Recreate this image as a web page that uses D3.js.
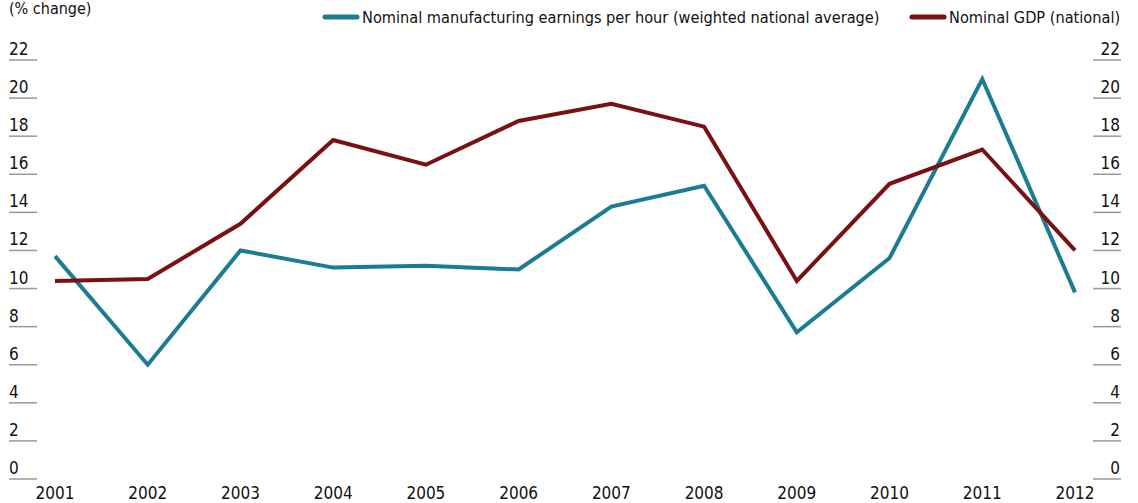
<!DOCTYPE html>
<html lang="en">
<head>
    <meta charset="UTF-8">
    <title>Earnings vs GDP</title>
    <script src="https://cdnjs.cloudflare.com/ajax/libs/d3/7.8.5/d3.min.js"></script>
    <style>
    html, body {
        margin: 0;
        background: white;
    }
    text {
        font-family: "DejaVu Sans Condensed", "DejaVu Sans", sans-serif;
        font-size: 16px;
        fill: #111;
    }
    .tick-label {
        font-size: 17px;
    }
    </style>
</head>
<body>
    <div id="chart"></div>
    <script>
    // data
    var years = ['2001', '2002', '2003', '2004', '2005', '2006', '2007', '2008', '2009', '2010', '2011', '2012'];
    var earnings = [11.7, 6.0, 12.0, 11.1, 11.2, 11.0, 14.3, 15.4, 7.7, 11.6, 21.0, 9.8];
    var gdp = [10.4, 10.5, 13.4, 17.8, 16.5, 18.8, 19.7, 18.5, 10.4, 15.5, 17.3, 12.0];
    var yTicks = [0, 2, 4, 6, 8, 10, 12, 14, 16, 18, 20, 22];
    var seriesNames = ['Nominal manufacturing earnings per hour (weighted national average)', 'Nominal GDP (national)'];
    var colors = ['#1b7c93', '#791114'];

    var width = 1138, height = 503;

    var svg = d3.select('#chart')
        .append('svg')
            .attr('width', width)
            .attr('height', height);

    var x = d3.scalePoint()
        .domain(years)
        .range([55, 1075]);

    var y = d3.scaleLinear()
        .domain([0, 22])
        .range([479, 60]);

    // left ticks
    var left = svg.append('g');
    left.selectAll('line')
        .data(yTicks)
        .enter()
        .append('line')
        .attr('x1', 9)
        .attr('x2', 37)
        .attr('y1', function(d){ return y(d); })
        .attr('y2', function(d){ return y(d); })
        .attr('stroke', '#999')
        .attr('stroke-width', 1.5);
    left.selectAll('text')
        .data(yTicks)
        .enter()
        .append('text')
        .attr('class', 'tick-label')
        .attr('x', 9)
        .attr('y', function(d){ return y(d) - 5; })
        .text(function(d){ return d; });

    // right ticks
    var right = svg.append('g');
    right.selectAll('line')
        .data(yTicks)
        .enter()
        .append('line')
        .attr('x1', 1093)
        .attr('x2', 1121)
        .attr('y1', function(d){ return y(d); })
        .attr('y2', function(d){ return y(d); })
        .attr('stroke', '#999')
        .attr('stroke-width', 1.5);
    right.selectAll('text')
        .data(yTicks)
        .enter()
        .append('text')
        .attr('class', 'tick-label')
        .attr('x', 1120)
        .attr('y', function(d){ return y(d) - 5; })
        .attr('text-anchor', 'end')
        .text(function(d){ return d; });

    // x labels
    svg.append('g')
        .attr('transform', 'translate(0,' + 499 + ')')
        .selectAll('text')
        .data(years)
        .enter()
        .append('text')
        .attr('class', 'tick-label')
        .attr('x', function(d){ return x(d); })
        .attr('text-anchor', 'middle')
        .text(function(d){ return d; });

    svg.append('text')
        .attr('x', 9)
        .attr('y', 14)
        .text('(% change)');

    var line = d3.line()
        .x(function(d, i){ return x(years[i]); })
        .y(function(d){ return y(d); });

    [earnings, gdp].forEach(function(s, i){
        svg.append('path')
            .attr('d', line(s))
            .attr('fill', 'none')
            .attr('stroke', colors[i])
            .attr('stroke-width', 4)
            .attr('stroke-linejoin', 'miter');
    });

    // legend
    var legendX = [325, 912];
    seriesNames.forEach(function(name, i){
        svg.append('line')
            .attr('x1', legendX[i])
            .attr('x2', legendX[i] + 32)
            .attr('y1', 17)
            .attr('y2', 17)
            .attr('stroke', colors[i])
            .attr('stroke-width', 5)
            .attr('stroke-linecap', 'round');
        svg.append('text')
            .attr('x', legendX[i] + 37)
            .attr('y', 23)
            .style('font-size', '16.2px')
            .text(name);
    });
    </script>
</body>
</html>
